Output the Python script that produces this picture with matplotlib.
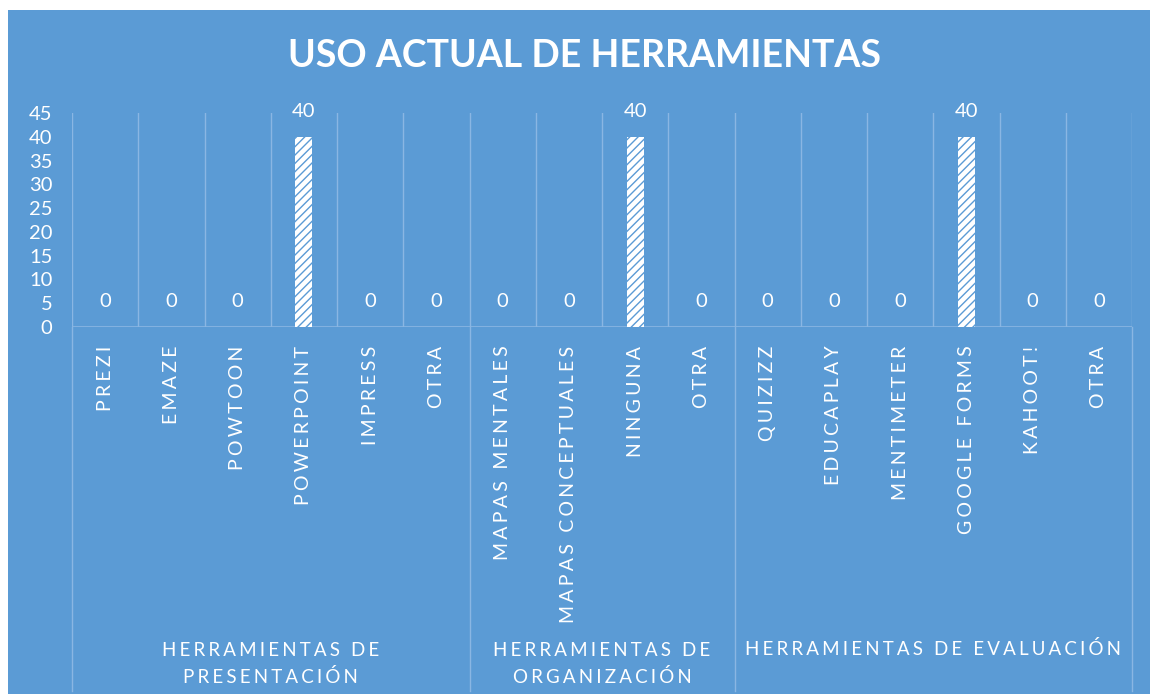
import matplotlib.pyplot as plt
from matplotlib.patches import Rectangle
from matplotlib.transforms import blended_transform_factory

plt.rcParams['font.family'] = ['Lato', 'DejaVu Sans']

categories = ['PREZI', 'EMAZE', 'POWTOON', 'POWERPOINT', 'IMPRESS', 'OTRA',
              'MAPAS MENTALES', 'MAPAS CONCEPTUALES', 'NINGUNA', 'OTRA',
              'QUIZIZZ', 'EDUCAPLAY', 'MENTIMETER', 'GOOGLE FORMS', 'KAHOOT!', 'OTRA']
values = [0, 0, 0, 40, 0, 0,
          0, 0, 40, 0,
          0, 0, 0, 40, 0, 0]
groups = ['HERRAMIENTAS DE\nPRESENTACIÓN', 'HERRAMIENTAS DE\nORGANIZACIÓN',
          'HERRAMIENTAS DE EVALUACIÓN']
group_sizes = [6, 4, 6]

bg = '#5B9BD5'
line_c = '#8AB6E3'
plt.rcParams['hatch.color'] = bg
plt.rcParams['hatch.linewidth'] = 1.0


def spaced(s):
    # imitate the wide letter spacing of the original
    return '\n'.join('\u2006'.join(line) for line in s.split('\n'))


fig = plt.figure(figsize=(11.5, 6.94), dpi=100, facecolor='white')
fig.patches.append(Rectangle((8 / 1150, 0), 1, 1 - 10 / 694, transform=fig.transFigure,
                             facecolor=bg, edgecolor='none', zorder=-1))

ax = fig.add_axes([72 / 1150, 1 - 327 / 694, 1060 / 1150, 214 / 694])
ax.set_zorder(2)
ax.set_facecolor('none')
for s in ax.spines.values():
    s.set_visible(False)

x = list(range(len(categories)))
ax.bar(x, values, width=0.26, facecolor='white', edgecolor=bg, linewidth=0,
       hatch='////', zorder=3)
for xi, v in zip(x, values):
    ax.annotate(str(v), (xi, v), xytext=(0, 18), textcoords='offset points',
                ha='center', va='center', color='white', fontsize=14.5)

ax.set_xlim(-0.5, len(categories) - 0.5)
ax.set_ylim(0, 45)
ax.set_yticks(range(0, 46, 5))
ax.tick_params(axis='y', length=0, pad=14, labelsize=14.5, labelcolor='white')
ax.set_xticks(x)
ax.set_xticklabels([spaced(c) for c in categories], rotation=90)
ax.tick_params(axis='x', length=0, pad=13.5, labelsize=14, labelcolor='white')

for i in range(len(categories) + 1):
    ax.axvline(i - 0.5, color=line_c, lw=1, zorder=1)
ax.axhline(0, color=line_c, lw=1.2, zorder=2)

tr = blended_transform_factory(ax.transData, ax.transAxes)
bounds = [0]
for n in group_sizes:
    bounds.append(bounds[-1] + n)
for b in bounds:
    ax.plot([b - 0.5, b - 0.5], [0, -1.70], color=line_c, lw=1, transform=tr,
            clip_on=False)
for g, a, b in zip(groups, bounds[:-1], bounds[1:]):
    yc = -1.575 if '\n' in g else -1.505
    ax.text((a + b - 1) / 2, yc, spaced(g), transform=tr, ha='center', va='center',
            color='white', fontsize=13.5, linespacing=1.6)

fig.text(585 / 1150, 1 - 56 / 694, 'USO ACTUAL DE HERRAMIENTAS', ha='center', va='center',
         color='white', fontsize=27, fontweight='bold')

fig.savefig('out.png', dpi=100, facecolor='white')
